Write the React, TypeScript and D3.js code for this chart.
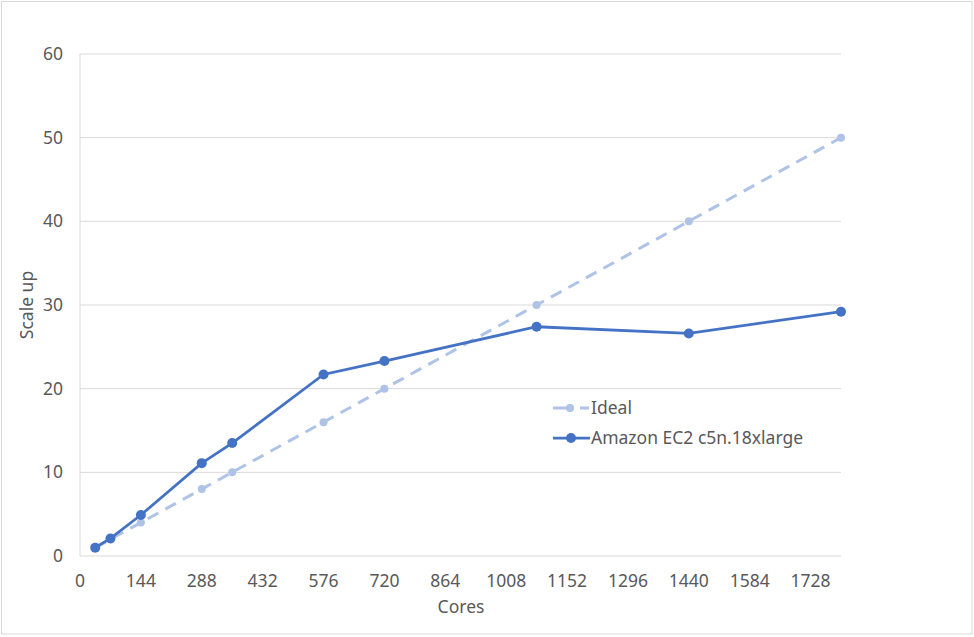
import React from "react";
import * as d3 from "d3";

const cores = [36, 72, 144, 288, 360, 576, 720, 1080, 1440, 1800];
const ideal = [1, 2, 4, 8, 10, 16, 20, 30, 40, 50];
const amazon = [1, 2.1, 4.9, 11.1, 13.5, 21.7, 23.3, 27.4, 26.6, 29.2];
const xTicks = [0, 144, 288, 432, 576, 720, 864, 1008, 1152, 1296, 1440, 1584, 1728];
const yTicks = [0, 10, 20, 30, 40, 50, 60];
const seriesNames = ["Ideal", "Amazon EC2 c5n.18xlarge"];

const W = 974, H = 637;
const font = "'Noto Sans', 'Open Sans', sans-serif";
const fs = 17.5;

export default function App() {
  const x = d3.scaleLinear().domain([0, 1800]).range([80, 841]);
  const y = d3.scaleLinear().domain([0, 60]).range([556, 54]);
  const line = d3.line<[number, number]>().x(d => x(d[0])).y(d => y(d[1]));
  const idealPts: [number, number][] = cores.map((c, i) => [c, ideal[i]]);
  const amzPts: [number, number][] = cores.map((c, i) => [c, amazon[i]]);
  const idealColor = "#AFC3E6";
  const amzColor = "#4472C4";
  return (
    <svg width={W} height={H} style={{ position: "absolute", left: 0, top: 0 }}>
      <rect x={0} y={0} width={W} height={H} fill="#fff" />
      <rect x={1.5} y={1.5} width={970.5} height={632.5} fill="none" stroke="#D9D9D9" strokeWidth={1} />
      {yTicks.map(t => (
        <g key={t}>
          {t > 0 && <line x1={80} x2={841} y1={y(t)} y2={y(t)} stroke="#D9D9D9" strokeWidth={1} />}
          <text x={63} y={y(t)} dy="0.35em" textAnchor="end" fontFamily={font} fontSize={fs} fill="#595959">{t}</text>
        </g>
      ))}
      <line x1={80} x2={80} y1={54} y2={556} stroke="#D9D9D9" strokeWidth={1} />
      <line x1={80} x2={841} y1={556} y2={556} stroke="#D9D9D9" strokeWidth={1} />
      {xTicks.map(t => (
        <text key={t} x={x(t)} y={587} textAnchor="middle" fontFamily={font} fontSize={fs} fill="#595959">{t}</text>
      ))}
      <text x={461} y={613} textAnchor="middle" fontFamily={font} fontSize={fs} fill="#595959">Cores</text>
      <text transform="translate(33,305) rotate(-90)" textAnchor="middle" fontFamily={font} fontSize={fs} fill="#595959">Scale up</text>

      <path d={line(idealPts) || ""} fill="none" stroke={idealColor} strokeWidth={3} strokeDasharray="12,8" />
      {idealPts.map((p, i) => (
        <circle key={i} cx={x(p[0])} cy={y(p[1])} r={4} fill={idealColor} />
      ))}
      <path d={line(amzPts) || ""} fill="none" stroke={amzColor} strokeWidth={2.75} />
      {amzPts.map((p, i) => (
        <circle key={i} cx={x(p[0])} cy={y(p[1])} r={5} fill={amzColor} />
      ))}

      <g>
        <line x1={553} x2={570} y1={408} y2={408} stroke={idealColor} strokeWidth={3} />
        <line x1={580} x2={589} y1={408} y2={408} stroke={idealColor} strokeWidth={3} />
        <circle cx={570} cy={408} r={4} fill={idealColor} />
        <text x={591} y={408} dy="0.35em" fontFamily={font} fontSize={fs} fill="#595959">{seriesNames[0]}</text>
        <line x1={553} x2={590} y1={438} y2={438} stroke={amzColor} strokeWidth={2.75} />
        <circle cx={571} cy={438} r={5} fill={amzColor} />
        <text x={591} y={438} dy="0.35em" fontFamily={font} fontSize={fs} fill="#595959">{seriesNames[1]}</text>
      </g>
    </svg>
  );
}
